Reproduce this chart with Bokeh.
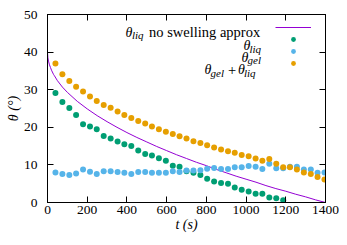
from bokeh.plotting import figure
from bokeh.models import Range1d, FixedTicker, LinearAxis, Label, Legend, LegendItem
from bokeh.embed import file_html
from bokeh.resources import INLINE

# ---------------- data ----------------
t_s = [40, 75, 110, 144, 179, 214, 248, 283, 318, 353, 387, 422, 457, 492, 526,
       561, 596, 631, 665, 700, 735, 770, 804, 839, 874, 909, 943, 978, 1013,
       1048, 1082, 1117, 1152, 1187, 1221, 1256, 1291, 1326, 1360, 1395]

theta_liq = [29.1, 26.7, 25.1, 23.3, 20.8, 20.2, 19.5, 17.7, 17.0, 16.2, 15.5,
             15.0, 13.8, 12.9, 12.5, 11.8, 11.1, 9.8, 9.5, 8.3, 7.9, 7.3, 6.3,
             5.6, 5.2, 5.0, 4.0, 3.4, 2.9, 2.3, 2.3, 1.3, 1.1, 0.6]
t_liq = t_s[:len(theta_liq)]

theta_gel = [8.0, 7.6, 7.3, 7.7, 8.8, 8.2, 7.6, 8.3, 8.3, 8.1, 7.9, 7.6, 8.1,
             8.1, 7.9, 7.9, 7.9, 8.3, 8.1, 8.5, 8.5, 8.6, 9.0, 9.2, 8.9, 8.9,
             9.4, 9.4, 9.7, 9.5, 8.9, 10.3, 9.1, 9.1, 9.5, 9.5, 8.8, 8.8, 7.9, 8.0]

theta_sum = [37.0, 34.1, 32.3, 30.8, 29.5, 28.2, 27.0, 25.9, 25.2, 24.2, 23.3,
             22.5, 21.7, 21.0, 20.2, 19.5, 18.8, 18.2, 17.6, 17.0, 16.3, 15.8,
             15.2, 14.6, 14.1, 13.6, 13.2, 12.6, 12.3, 11.7, 11.1, 11.6, 10.3,
             9.4, 9.4, 8.8, 8.0, 7.6, 6.8, 6.1]

t_approx = [0, 2, 5, 10, 15, 20, 30, 35, 50, 75, 100, 150, 200, 250, 300, 350,
            400, 450, 500, 550, 600, 650, 700, 750, 800, 850, 900, 950, 1000,
            1050, 1100, 1150, 1200, 1250, 1300, 1350, 1400]
theta_approx = [40.0, 38.5, 37.6, 36.6, 35.9, 35.2, 34.1, 33.7, 32.4, 30.7, 29.3,
                26.9, 24.9, 23.1, 21.5, 20.0, 18.6, 17.3, 16.1, 14.9, 13.8, 12.7,
                11.7, 10.7, 9.8, 8.8, 7.9, 7.0, 6.2, 5.4, 4.5, 3.7, 3.0, 2.2, 1.5,
                0.7, 0.0]

x_ticks = [0, 200, 400, 600, 800, 1000, 1200, 1400]
y_ticks = [0, 10, 20, 30, 40, 50]

# ---------------- styling ----------------
FONT = "Liberation Serif"
C_LINE = "#9400d3"
C_LIQ = "#009e73"
C_GEL = "#56b4e9"
C_SUM = "#e69f00"

p = figure(width=339, height=237, output_backend="svg", toolbar_location=None,
           x_range=Range1d(0, 1400), y_range=Range1d(0, 50),
           min_border_left=47, min_border_right=14, min_border_top=14,
           min_border_bottom=35)
p.background_fill_color = "white"
p.border_fill_color = "white"
p.outline_line_color = "black"
p.xgrid.visible = False
p.ygrid.visible = False

ax_bottom = p.xaxis[0]
ax_left = p.yaxis[0]

def style_axis(ax, ticks, show_labels, standoff):
    ax.ticker = FixedTicker(ticks=ticks)
    ax.axis_line_color = "black"
    ax.major_tick_line_color = "black"
    ax.major_tick_in = 6
    ax.major_tick_out = 0
    ax.minor_tick_line_color = None
    ax.major_label_text_font = FONT
    ax.major_label_text_font_size = "13.5px"
    ax.major_label_text_color = "black"
    ax.major_label_standoff = standoff
    if not show_labels:
        ax.major_label_overrides = {v: "" for v in ticks}

style_axis(ax_bottom, x_ticks, True, 3)
style_axis(ax_left, y_ticks, True, 10)
ax_top = LinearAxis()
style_axis(ax_top, x_ticks, False, 0)
p.add_layout(ax_top, "above")
ax_right = LinearAxis()
style_axis(ax_right, y_ticks, False, 0)
p.add_layout(ax_right, "right")

for ax, text in ((ax_left, "θ (°)"), (ax_bottom, "t (s)")):
    ax.axis_label = text
    ax.axis_label_text_font = FONT
    ax.axis_label_text_font_size = "14px"
    ax.axis_label_text_font_style = "italic"
    ax.axis_label_text_color = "black"
    ax.axis_label_standoff = 0

r_line = p.line(t_approx, theta_approx, line_color=C_LINE, line_width=1)
r_liq = p.scatter(t_liq, theta_liq, size=6, fill_color=C_LIQ, line_color=None)
r_gel = p.scatter(t_s, theta_gel, size=6, fill_color=C_GEL, line_color=None)
r_sum = p.scatter(t_s, theta_sum, size=6, fill_color=C_SUM, line_color=None)

# legend samples (texts are drawn as labels to the left, gnuplot style)
legend = Legend(items=[LegendItem(label=" ", renderers=[r_line]),
                       LegendItem(label=" ", renderers=[r_liq]),
                       LegendItem(label=" ", renderers=[r_gel]),
                       LegendItem(label=" ", renderers=[r_sum])],
                location=(228, 133), glyph_width=36, glyph_height=12,
                label_width=0, label_height=12, label_standoff=0, spacing=0,
                padding=0, margin=0, border_line_color=None,
                background_fill_alpha=0, label_text_font_size="1px")
p.add_layout(legend)

FL, FB = 47, 202  # frame left / bottom in picture pixels

def lab(text, px, py, size, style="normal"):
    p.add_layout(Label(x=px - FL, y=FB - py, x_units="screen", y_units="screen",
                       text=text, text_font=FONT, text_font_size=f"{size}px",
                       text_font_style=style, text_align="left",
                       text_baseline="alphabetic", text_color="black"))

SUB = 11
TH = 14
MAIN = 14.5
# row 1
lab("θ", 125, 31.7, TH, "italic")
lab("liq", 131.5, 34.7, SUB, "italic")
lab("no swelling approx", 148.5, 31.7, MAIN)
# row 2
lab("θ", 243, 45.3, TH, "italic")
lab("liq", 249, 48.3, SUB, "italic")
# row 3
lab("θ", 241, 56.5, TH, "italic")
lab("gel", 247, 59.5, SUB, "italic")
# row 4
lab("θ", 204, 69, TH, "italic")
lab("gel", 210, 72, SUB, "italic")
lab("+", 227.5, 69, MAIN)
lab("θ", 237.5, 69, TH, "italic")
lab("liq", 243.5, 72, SUB, "italic")

open("out.html", "w").write(file_html(p, INLINE))
